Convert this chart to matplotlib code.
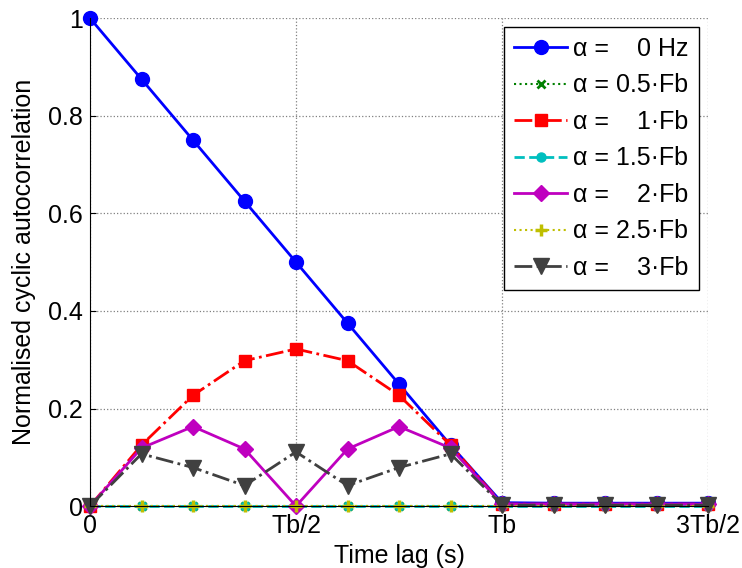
import numpy as np
import matplotlib
matplotlib.use("Agg")
import matplotlib.pyplot as plt

plt.rcParams['font.family'] = ['Liberation Sans', 'DejaVu Sans']

# time lag in units of Tb (Tb/8 steps)
lag = np.arange(13) / 8.0

r_0 = [1.0, 0.875, 0.75, 0.625, 0.5, 0.375, 0.25, 0.125, 0.007, 0.006, 0.006, 0.006, 0.006]
r_05 = [0.0] * 13
r_1 = [0.0, 0.125, 0.227, 0.298, 0.322, 0.298, 0.227, 0.125, 0.004, 0.004, 0.004, 0.004, 0.004]
r_15 = [0.0] * 13
r_2 = [0.0, 0.119, 0.163, 0.117, 0.0, 0.117, 0.163, 0.119, 0.004, 0.004, 0.004, 0.004, 0.004]
r_25 = [0.0] * 13
r_3 = [0.0, 0.107, 0.079, 0.042, 0.111, 0.042, 0.079, 0.107, 0.002, 0.002, 0.002, 0.002, 0.002]

labels = ['α =    0 Hz', 'α = 0.5·Fb', 'α =    1·Fb', 'α = 1.5·Fb',
          'α =    2·Fb', 'α = 2.5·Fb', 'α =    3·Fb']
xticks = [0, 0.5, 1.0, 1.5]
xticklabels = ['0', 'Tb/2', 'Tb', '3Tb/2']
yticks = [0, 0.2, 0.4, 0.6, 0.8, 1.0]
yticklabels = ['0', '0.2', '0.4', '0.6', '0.8', '1']

fs = 18

fig = plt.figure(figsize=(7.42, 5.68), dpi=100)
ax = fig.add_axes([0.1213, 0.109, 0.8329, 0.859])

styles = [
    dict(color=(0, 0, 1), ls='-', marker='o', ms=10, lw=2),
    dict(color=(0, 0.5, 0), ls=':', marker='x', ms=6, mew=2, lw=1.5),
    dict(color=(1, 0, 0), ls='-.', marker='s', ms=8.5, lw=2),
    dict(color=(0, 0.75, 0.75), ls='--', marker='o', ms=6.5, lw=2),
    dict(color=(0.75, 0, 0.75), ls='-', marker='D', ms=8.5, lw=2),
    dict(color=(0.75, 0.75, 0), ls=':', marker='+', ms=8, mew=2.5, lw=1.5),
    dict(color=(0.25, 0.25, 0.25), ls='-.', marker='v', ms=11, lw=2),
]
series = [r_0, r_05, r_1, r_15, r_2, r_25, r_3]

for y, lab, st in zip(series, labels, styles):
    ax.plot(lag, y, label=lab, clip_on=False, **st)

ax.set_xlim(0, 1.5)
ax.set_ylim(0, 1)
ax.set_xticks(xticks)
ax.set_xticklabels(xticklabels)
ax.set_yticks(yticks)
ax.set_yticklabels(yticklabels)
ax.tick_params(direction='in', length=4, labelsize=fs)
ax.tick_params(axis='x', pad=6)
ax.tick_params(axis='y', pad=5)

ax.grid(True, ls=':', color='0.5', lw=0.9)
ax.set_axisbelow(True)
ax.spines['top'].set_visible(False)
ax.spines['right'].set_visible(False)

ax.set_xlabel('Time lag (s)', fontsize=fs, labelpad=4)
ax.set_ylabel('Normalised cyclic autocorrelation', fontsize=fs, labelpad=9)

leg = ax.legend(loc='upper right', bbox_to_anchor=(0.985, 0.982), fontsize=fs,
                fancybox=False, framealpha=1, edgecolor='black',
                handlelength=2.1, handletextpad=0.25, labelspacing=0.5,
                borderpad=0.4, borderaxespad=0)
leg.get_frame().set_linewidth(1.0)

fig.savefig('out.png', dpi=100)
